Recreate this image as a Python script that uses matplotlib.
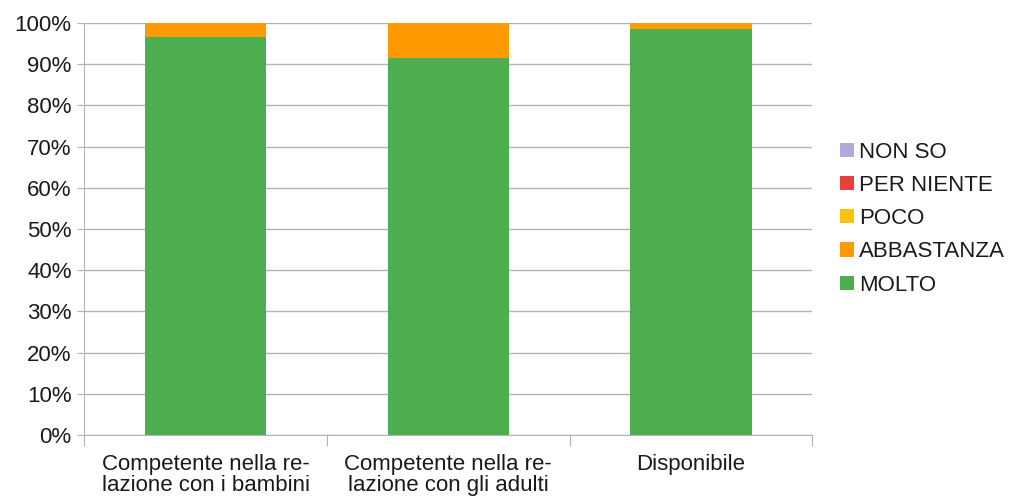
import matplotlib as mpl
mpl.use("Agg")
import matplotlib.pyplot as plt
import numpy as np
from matplotlib.ticker import PercentFormatter, FixedLocator

plt.rcParams['font.family'] = ['Liberation Sans', 'DejaVu Sans']

categories = ["Competente nella re-\nlazione con i bambini",
              "Competente nella re-\nlazione con gli adulti",
              "Disponibile"]
series = ["MOLTO", "ABBASTANZA", "POCO", "PER NIENTE", "NON SO"]
molto = [96.6, 91.4, 98.5]
abbastanza = [3.4, 8.6, 1.5]
poco = [0, 0, 0]
per_niente = [0, 0, 0]
non_so = [0, 0, 0]
values = [molto, abbastanza, poco, per_niente, non_so]
colors = ["#4cae4f", "#ff9a00", "#ffc30f", "#e8403c", "#b4a7e0"]

fs = 16
fig, ax = plt.subplots(figsize=(10.14, 4.98), dpi=100)
fig.subplots_adjust(left=0.083, right=0.801, top=0.954, bottom=0.1265)

x = np.arange(len(categories))
bottom = np.zeros(len(categories))
handles = []
for name, vals, c in zip(series, values, colors):
    h = ax.bar(x, vals, width=0.5, bottom=bottom, color=c, label=name, zorder=3)
    handles.append(h)
    bottom += np.array(vals)

ax.set_ylim(0, 100)
ax.set_xlim(-0.5, len(categories) - 0.5)
ax.set_yticks(np.arange(0, 101, 10))
ax.yaxis.set_major_formatter(PercentFormatter(decimals=0))
ax.grid(axis='y', color='#b3b3b3', linewidth=1, zorder=0)

# categories sit between tick marks
ax.xaxis.set_major_locator(FixedLocator(np.arange(-0.5, len(categories), 1)))
ax.set_xticklabels([])
ax.xaxis.set_minor_locator(FixedLocator(x))
ax.set_xticklabels(categories, minor=True, fontsize=fs, linespacing=1.0,
                   color='#1a1a1a')
ax.tick_params(axis='x', which='minor', length=0, pad=14)
ax.tick_params(axis='x', which='major', length=8, color='#b3b3b3')
ax.tick_params(axis='y', length=5, color='#b3b3b3', labelsize=fs, pad=4,
               labelcolor='#1a1a1a')

for s in ['top', 'right']:
    ax.spines[s].set_visible(False)
ax.spines['bottom'].set_color('#b3b3b3')
ax.spines['left'].set_color('#b3b3b3')

leg = ax.legend(handles[::-1], series[::-1], loc='center left',
                bbox_to_anchor=(1.011, 0.525), frameon=False, fontsize=fs,
                handlelength=0.6, handleheight=0.6, handletextpad=0.25,
                labelspacing=0.55)
for t in leg.get_texts():
    t.set_color('#1a1a1a')

fig.savefig("out.png")
